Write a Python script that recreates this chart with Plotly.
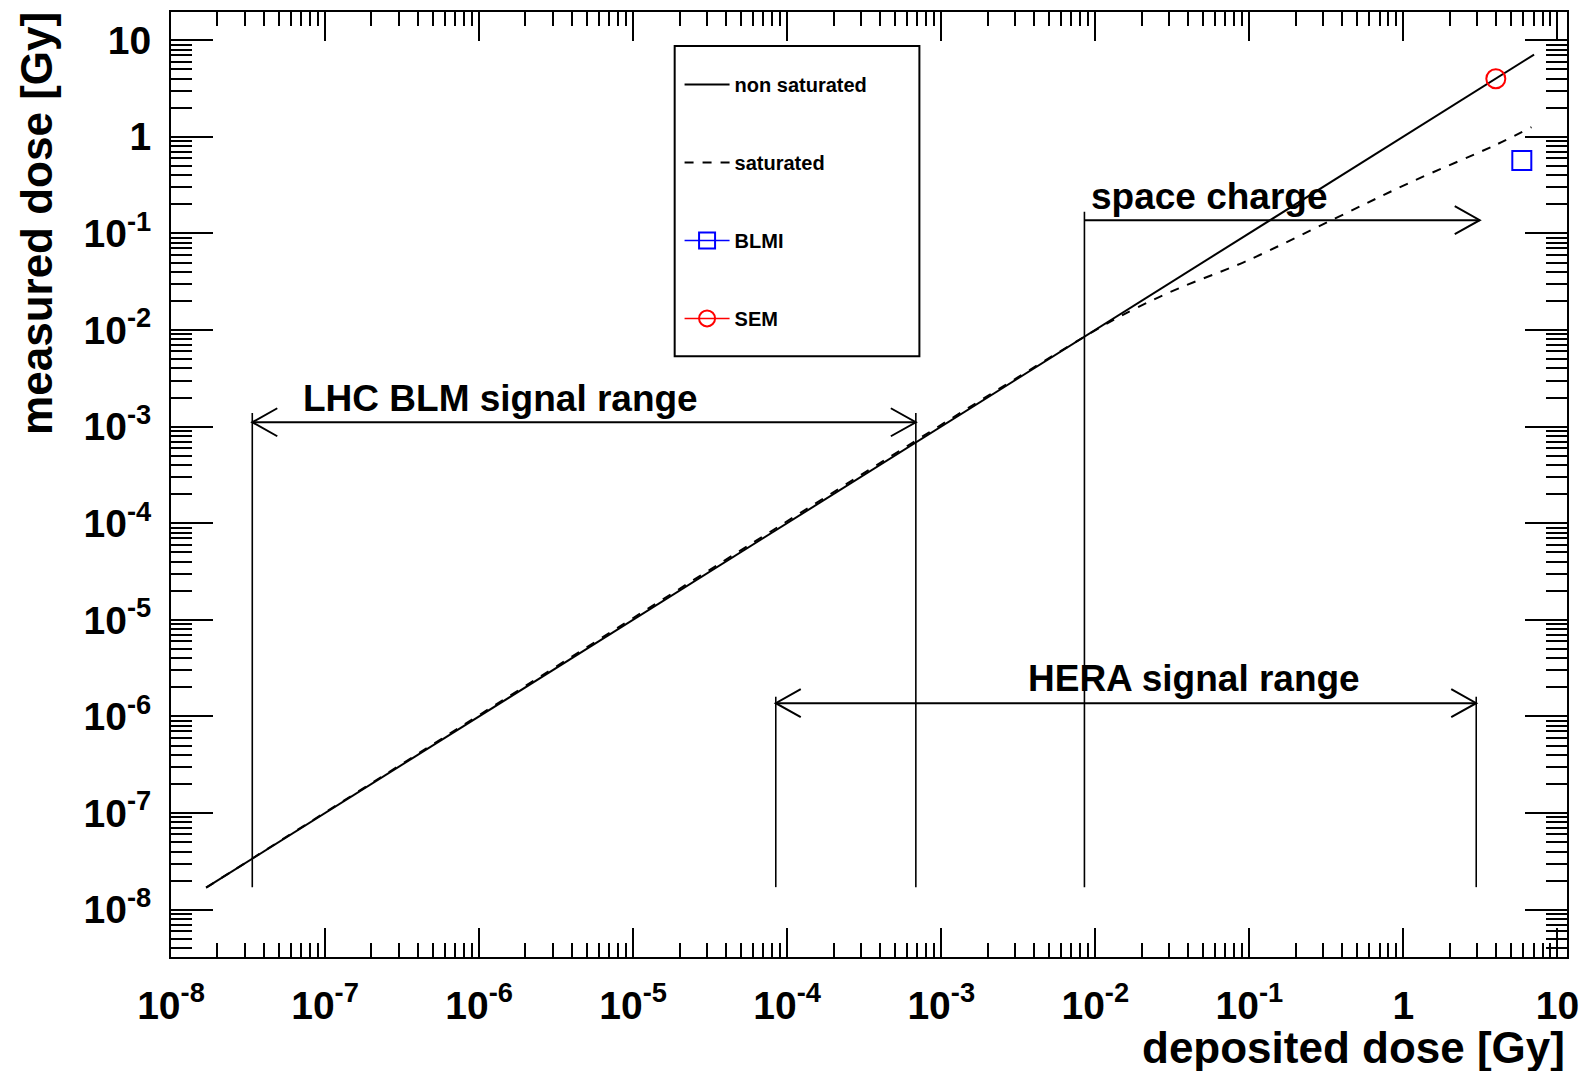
import numpy as np
import plotly.graph_objects as go

# ---------------- data ----------------
nonsat_x = [1.69e-8, 7.05]
nonsat_y = [1.69e-8, 7.10]

sat_x = [1.69e-8, 8.9e-3, 1.78e-2, 3.48e-2, 9.4e-2, 3.61e-1, 1.13, 3.93, 6.78]
sat_y = [1.69e-8, 8.9e-3, 1.64e-2, 2.70e-2, 5.11e-2, 1.43e-1, 3.42e-1, 8.18e-1, 1.26]

blmi_x = [5.87]
blmi_y = [0.568]
sem_x = [3.98]
sem_y = [3.99]

# ranges drawn on the plot
lhc_range = [3.37e-8, 6.84e-4]
lhc_arrow_y = 1.11e-3
lhc_top = 1.38e-3
hera_range = [8.43e-5, 2.97]
hera_arrow_y = 1.37e-6
hera_top = 1.6e-6
space_x = 8.5e-3
space_end = 3.13
space_arrow_y = 0.137
space_top = 0.168
line_bottom = 1.71e-8

lhc_label = "LHC BLM signal range"
hera_label = "HERA signal range"
space_label = "space charge"
lhc_label_pos = (1.38e-6, 1.95e-3)
hera_label_pos = (0.044, 2.45e-6)
space_label_pos = (0.0553, 0.24)

tick_vals = [1e-8, 1e-7, 1e-6, 1e-5, 1e-4, 1e-3, 1e-2, 1e-1, 1, 10]
tick_text = ["10<sup>-8</sup>", "10<sup>-7</sup>", "10<sup>-6</sup>", "10<sup>-5</sup>",
             "10<sup>-4</sup>", "10<sup>-3</sup>", "10<sup>-2</sup>", "10<sup>-1</sup>", "1", "10"]

x_title = "deposited dose [Gy]"
y_title = "measured dose [Gy]"

# ---------------- figure ----------------
FONT = "Liberation Sans, Arial, Helvetica, sans-serif"
minor_vals = [k * 10.0 ** e for e in range(-9, 2) for k in range(2, 10)]

fig = go.Figure()

fig.add_trace(go.Scatter(x=nonsat_x, y=nonsat_y, mode="lines", name="non saturated",
                         legendgroup="a", line=dict(color="black", width=2)))
fig.add_trace(go.Scatter(x=sat_x, y=sat_y, mode="lines", name="saturated",
                         legendgroup="b", line=dict(color="black", width=2, dash="dash", shape="spline")))
fig.add_trace(go.Scatter(x=blmi_x, y=blmi_y, mode="lines+markers", name="BLMI", legendgroup="c",
                         line=dict(color="blue", width=1.5),
                         marker=dict(symbol="square-open", size=19, color="blue", line=dict(width=2))))
fig.add_trace(go.Scatter(x=sem_x, y=sem_y, mode="lines+markers", name="SEM", legendgroup="d",
                         line=dict(color="red", width=1.5),
                         marker=dict(symbol="circle-open", size=19, color="red", line=dict(width=2))))

# range marker lines (vertical bars and arrows)
def seg(xs, ys, width=1.8):
    fig.add_trace(go.Scatter(x=xs, y=ys, mode="lines", showlegend=False, hoverinfo="skip",
                             line=dict(color="black", width=width)))

for xv in lhc_range:
    seg([xv, xv], [line_bottom, lhc_top], 1.6)
seg(lhc_range, [lhc_arrow_y, lhc_arrow_y], 2)
for xv in hera_range:
    seg([xv, xv], [line_bottom, hera_top], 1.6)
seg(hera_range, [hera_arrow_y, hera_arrow_y], 2)
seg([space_x, space_x], [line_bottom, space_top], 1.6)
seg([space_x, space_end], [space_arrow_y, space_arrow_y], 2)

# open V arrowheads (pixel-sized, anchored at data points)
def head(xv, yv, direction):
    d = 1 if direction == "right" else -1
    fig.add_shape(type="path", xref="x", yref="y", xsizemode="pixel", ysizemode="pixel",
                  xanchor=xv, yanchor=yv,
                  path=f"M{-25*d},14 L0,0 L{-25*d},-14",
                  line=dict(color="black", width=2))

head(lhc_range[0], lhc_arrow_y, "left")
head(lhc_range[1], lhc_arrow_y, "right")
head(hera_range[0], hera_arrow_y, "left")
head(hera_range[1], hera_arrow_y, "right")
head(space_end, space_arrow_y, "right")

txtfont = dict(family=FONT, size=37, color="black", weight="bold")
for label, (lx, ly) in [(lhc_label, lhc_label_pos), (hera_label, hera_label_pos),
                        (space_label, space_label_pos)]:
    fig.add_annotation(x=np.log10(lx), y=np.log10(ly), xref="x", yref="y", text=label,
                       showarrow=False, xanchor="center", yanchor="middle", font=txtfont)

# axis titles (ROOT style, aligned with axis ends)
fig.add_annotation(x=1, y=-0.0954, xref="paper", yref="paper", text=x_title, showarrow=False,
                   xanchor="right", yanchor="middle",
                   font=dict(family=FONT, size=44, color="black", weight="bold"))
fig.add_annotation(x=-0.0965, y=1.002, xref="paper", yref="paper", text=y_title, showarrow=False,
                   textangle=-90, xanchor="center", yanchor="top",
                   font=dict(family=FONT, size=44, color="black", weight="bold"))

# legend box
fig.add_shape(type="rect", xref="paper", yref="paper", x0=0.3608, x1=0.5361, y0=0.6356, y1=0.9641,
              line=dict(color="black", width=2), fillcolor="rgba(0,0,0,0)")

axis_common = dict(type="log", showgrid=False, zeroline=False, showline=True, linecolor="black",
                   linewidth=2, mirror="ticks", ticks="inside", tickcolor="black", tickwidth=1.5,
                   tickmode="array", tickvals=tick_vals, ticktext=tick_text,
                   tickfont=dict(family=FONT, size=39, color="black", weight="bold"))

fig.update_xaxes(**axis_common, range=[-8, 1.062], ticklen=29, ticklabelstandoff=13,
                 minor=dict(tickmode="array", tickvals=minor_vals, ticks="inside", ticklen=14,
                            tickwidth=1.5, tickcolor="black"))
fig.update_yaxes(**axis_common, range=[-8.49, 1.292], ticklen=42, ticklabelstandoff=10,
                 minor=dict(tickmode="array", tickvals=minor_vals, ticks="inside", ticklen=21,
                            tickwidth=1.5, tickcolor="black"))

fig.update_layout(
    width=1589, height=1071, autosize=False,
    margin=dict(l=171, r=21, t=10, b=114, pad=0),
    paper_bgcolor="white", plot_bgcolor="white",
    showlegend=True,
    legend=dict(x=0.3643, y=0.944, xanchor="left", yanchor="top", bgcolor="rgba(0,0,0,0)",
                borderwidth=0, tracegroupgap=49, itemwidth=45, traceorder="grouped",
                font=dict(family=FONT, size=20, color="black", weight="bold")),
)

fig.write_html("out.html")
